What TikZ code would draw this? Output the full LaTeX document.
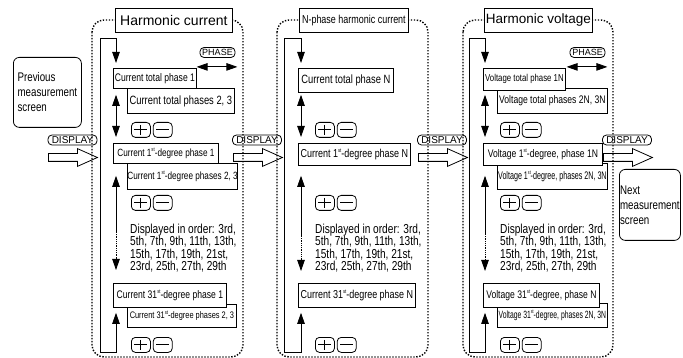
\documentclass[tikz,border=0pt]{standalone}
\usepackage{fontspec}
\setmainfont{Liberation Sans}
\newfontfamily\cond[FakeStretch=0.78]{Liberation Sans}
\newfontfamily\xcond[FakeStretch=0.65]{Liberation Sans}
\usetikzlibrary{arrows.meta, positioning, shapes.arrows, calc}
\newcommand{\fsz}[1]{\fontsize{#1}{#1}\selectfont}
\newcommand{\ord}[1]{\raisebox{0.4em}{\fsz{5.5}#1}}

\begin{document}
\begin{tikzpicture}[
        x=1pt, y=-1pt,
        >={Triangle[length=11pt, width=7.5pt]},
        panel/.style={line width=1.4pt, dash pattern=on 1.4pt off 1.6pt, rounded corners=12pt},
        title/.style={draw, fill=white, line width=0.8pt, anchor=north west, inner sep=0pt, minimum height=24pt},
        scr/.style={draw, fill=white, line width=0.8pt, anchor=north west, inner sep=0pt, font=\cond\fsz{11}},
        key/.style={draw, line width=0.8pt, rounded corners=4pt, inner xsep=1pt, inner ysep=0pt, minimum height=10pt, font=\fsz{9}},
        btn/.style={draw, line width=0.8pt, rounded corners=4pt, minimum width=19pt, minimum height=15pt, inner sep=0pt, anchor=north west},
        plusbtn/.style={btn, path picture={\draw[line width=0.9pt] ([xshift=3pt]path picture bounding box.west) -- ([xshift=-3pt]path picture bounding box.east) ([yshift=-2.5pt]path picture bounding box.north) -- ([yshift=2.5pt]path picture bounding box.south);}},
        minusbtn/.style={btn, path picture={\draw[line width=0.9pt] ([xshift=3pt]path picture bounding box.west) -- ([xshift=-3pt]path picture bounding box.east);}},
        flow/.style={line width=0.8pt},
        blockarrow/.style={single arrow, draw, line width=0.8pt, inner sep=0pt, inner ysep=3.5pt, single arrow head extend=5pt, single arrow tip angle=48, minimum height=49pt, anchor=west},
        note/.style={anchor=north west, align=left, inner sep=0pt, font=\cond\fontsize{13}{12.3}\selectfont},
        side/.style={draw, line width=0.8pt, rounded corners=6pt, anchor=north west, align=left, inner sep=0pt, font=\cond\fontsize{12.5}{15}\selectfont}
    ]
        \useasboundingbox (0,0) rectangle (683,358);

        \node[side, minimum width=68pt, minimum height=70pt] (prev) at (13,57) {Previous\\measurement\\screen};
        \node[side, minimum width=61pt, minimum height=71pt] (next) at (619,169) {Next\\measurement\\screen};

        \draw[panel] (92,20) rectangle (243,357);
        \draw[panel] (277,20) rectangle (428,357);
        \draw[panel] (463,20) rectangle (613,357);

        \node[title, minimum width=117pt, font=\fsz{14}] (hc) at (115,8) {Harmonic current};
        \node[title, minimum width=109pt, font=\cond\fsz{11.5}] (nh) at (299,8) {N-phase harmonic current};
        \node[title, minimum width=108pt, font=\fsz{13.5}] (hv) at (484,8) {Harmonic voltage};

        \node[scr, minimum width=107pt, minimum height=25pt, font=\cond\fsz{12}] (hc1b) at (127,88) {Current total phases 2, 3};
        \node[scr, minimum width=83pt, minimum height=20pt] (hc1a) at (113,68) {Current total phase 1};
        \node[scr, minimum width=109pt, minimum height=26pt, font=\cond\fsz{10.5}] (hc2b) at (127,163) {Current 1\ord{st}-degree phases 2, 3};
        \node[scr, minimum width=105pt, minimum height=20pt, font=\cond\fsz{10.5}] (hc2a) at (113,143) {Current 1\ord{st}-degree phase 1};
        \node[scr, minimum width=109pt, minimum height=23pt, font=\cond\fsz{9.5}] (hc3b) at (127,304) {Current 31\ord{st}-degree phases 2, 3};
        \node[scr, minimum width=113pt, minimum height=24pt] (hc3a) at (113,283) {Current 31\ord{st}-degree phase 1};

        \node[scr, minimum width=95pt, minimum height=24pt, font=\cond\fsz{12}] (nh1) at (298,68) {Current total phase N};
        \node[scr, minimum width=112pt, minimum height=22pt, font=\cond\fsz{11.5}] (nh2) at (298,143) {Current 1\ord{st}-degree phase N};
        \node[scr, minimum width=117pt, minimum height=24pt, font=\cond\fsz{11.5}] (nh3) at (298,283) {Current 31\ord{st}-degree phase N};

        \node[scr, minimum width=110pt, minimum height=25pt] (hv1b) at (497,88) {Voltage total phases 2N, 3N};
        \node[scr, minimum width=82pt, minimum height=22pt, font=\cond\fsz{10}] (hv1a) at (483,68) {Voltage total phase 1N};
        \node[scr, minimum width=110pt, minimum height=26pt, font=\xcond\fsz{11}] (hv2b) at (497,163) {Voltage 1\ord{st}-degree, phases 2N, 3N};
        \node[scr, minimum width=119pt, minimum height=22pt] (hv2a) at (483,143) {Voltage 1\ord{st}-degree, phase 1N};
        \node[scr, minimum width=110pt, minimum height=24pt, font=\xcond\fsz{10.5}] (hv3b) at (497,303) {Voltage 31\ord{st}-degree, phases 2N, 3N};
        \node[scr, minimum width=116pt, minimum height=24pt] (hv3a) at (483,283) {Voltage 31\ord{st}-degree, phase N};

        \foreach \p/\x in {hc/131, nh/315, hv/500} {
            \foreach \i/\y in {1/122, 2/195, 3/337} {
                \node[plusbtn] (\p p\i) at (\x,\y) {};
                \node[minusbtn, right=2pt of \p p\i] (\p m\i) {};
            }
        }

        \node[note] (hcnote) at (130,224) {Displayed in order: 3rd,\\5th, 7th, 9th, 11th, 13th,\\15th, 17th, 19th, 21st,\\23rd, 25th, 27th, 29th};
        \node[note] (nhnote) at (315,224) {Displayed in order: 3rd,\\5th, 7th, 9th, 11th, 13th,\\15th, 17th, 19th, 21st,\\23rd, 25th, 27th, 29th};
        \node[note] (hvnote) at (500,224) {Displayed in order: 3rd,\\5th, 7th, 9th, 11th, 13th,\\15th, 17th, 19th, 21st,\\23rd, 25th, 27th, 29th};

        \node[key, minimum width=35pt] (hcphase) at (217.5,52.5) {PHASE};
        \node[key, minimum width=35pt] (hvphase) at (587.5,52.5) {PHASE};
        \draw[flow, <->] ($(hcphase.south west)+(-3,9)$) -- ($(hcphase.south east)+(2,9)$);
        \draw[flow, <->] ($(hvphase.south west)+(-3,9)$) -- ($(hvphase.south east)+(2,9)$);

        \node[key, minimum width=49pt, font=\fsz{10}] (disp0) at (72.5,140) {DISPLAY};
        \node[key, minimum width=49pt, font=\fsz{10}] (disp1) at (257,140) {DISPLAY};
        \node[key, minimum width=49pt, font=\fsz{10}] (disp2) at (442,140) {DISPLAY};
        \node[key, minimum width=49pt, font=\fsz{10}] (disp3) at (627,140) {DISPLAY};
        \node[blockarrow] (go0) at (48,157.5) {};
        \node[blockarrow] (go1) at (233,157.5) {};
        \node[blockarrow] (go2) at (418,157.5) {};
        \node[blockarrow] (go3) at (603,157.5) {};

        \coordinate (hcbot) at (100,352);
        \coordinate (hctop) at (116,38);
        \coordinate (hcdots) at (116,232);
        \coordinate (hcdotsend) at (116,258);
        \draw[flow, <->, shorten <=5pt, shorten >=5pt] ($(hc3a.south west)+(3,0)$) |- (hcbot) |- (hctop) -- ($(hc1a.north west)+(3,0)$);
        \draw[flow, <->, shorten <=6pt, shorten >=6pt] ($(hc1a.south west)+(3,0)$) -- ($(hc2a.north west)+(3,0)$);
        \draw[flow, <-, shorten <=12pt] ($(hc2a.south west)+(3,0)$) -- (hcdots);
        \draw[flow, densely dotted] (hcdots) -- (hcdotsend);
        \draw[flow, ->, shorten >=13pt] (hcdotsend) -- ($(hc3a.north west)+(3,0)$);

        \coordinate (nhbot) at (284,352);
        \coordinate (nhtop) at (301,38);
        \coordinate (nhdots) at (301,236);
        \coordinate (nhdotsend) at (301,260);
        \draw[flow, <->, shorten <=5pt, shorten >=5pt] ($(nh3.south west)+(3,0)$) |- (nhbot) |- (nhtop) -- ($(nh1.north west)+(3,0)$);
        \draw[flow, <->, shorten <=2pt, shorten >=6pt] ($(nh1.south west)+(3,0)$) -- ($(nh2.north west)+(3,0)$);
        \draw[flow, <-, shorten <=10pt] ($(nh2.south west)+(3,0)$) -- (nhdots);
        \draw[flow, densely dotted] (nhdots) -- (nhdotsend);
        \draw[flow, ->, shorten >=12pt] (nhdotsend) -- ($(nh3.north west)+(3,0)$);

        \coordinate (hvbot) at (469,352);
        \coordinate (hvtop) at (485,38);
        \coordinate (hvdots) at (485,234);
        \coordinate (hvdotsend) at (485,259);
        \draw[flow, <->, shorten <=5pt, shorten >=5pt] ($(hv3a.south west)+(2,0)$) |- (hvbot) |- (hvtop) -- ($(hv1a.north west)+(2,0)$);
        \draw[flow, <->, shorten <=4pt, shorten >=6pt] ($(hv1a.south west)+(2,0)$) -- ($(hv2a.north west)+(2,0)$);
        \draw[flow, <-, shorten <=10pt] ($(hv2a.south west)+(2,0)$) -- (hvdots);
        \draw[flow, densely dotted] (hvdots) -- (hvdotsend);
        \draw[flow, ->, shorten >=12pt] (hvdotsend) -- ($(hv3a.north west)+(2,0)$);
    \end{tikzpicture}
\end{document}
